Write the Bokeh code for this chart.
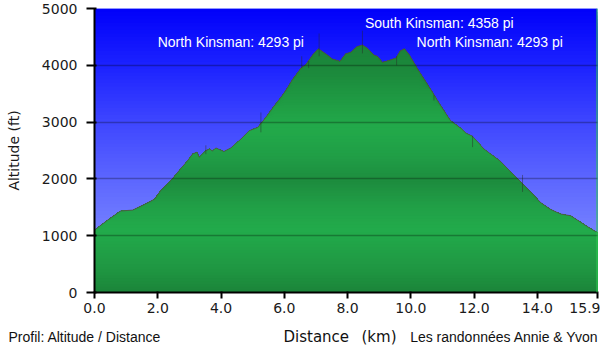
import numpy as np
from bokeh.plotting import figure
from bokeh.layouts import column
from bokeh.models import Range1d, FixedTicker, Label, Span, PrintfTickFormatter
from bokeh.embed import file_html
from bokeh.resources import INLINE

# ---------------- data ----------------
profile_km = [0.00, 0.42, 0.82, 1.21, 1.58, 1.90, 2.10, 2.42, 2.68, 2.95, 3.10, 3.24, 3.31,
              3.53, 3.65, 3.72, 3.84, 4.09, 4.32, 4.63, 4.89, 5.16, 5.37, 5.68, 6.00, 6.26,
              6.53, 6.68, 6.90, 7.08, 7.35, 7.52, 7.76, 7.94, 8.10, 8.30, 8.47, 8.63, 8.82,
              8.95, 9.10, 9.32, 9.53, 9.66, 9.80, 9.95, 10.26, 10.63, 10.95, 11.26, 11.58,
              11.74, 11.95, 12.31, 12.84, 13.16, 13.53, 13.79, 14.10, 14.42, 14.74, 15.05,
              15.26, 15.58, 15.84, 15.90]
profile_alt = [1100, 1277, 1434, 1452, 1550, 1644, 1801, 1975, 2150, 2325, 2440, 2470, 2382,
               2499, 2530, 2490, 2545, 2482, 2550, 2702, 2848, 2906, 3051, 3284, 3517, 3749,
               3953, 4010, 4185, 4293, 4185, 4110, 4070, 4202, 4230, 4330, 4358, 4300, 4185,
               4157, 4052, 4087, 4127, 4250, 4293, 4185, 3895, 3574, 3284, 3022, 2890,
               2806, 2749, 2527, 2307, 2120, 1916, 1771, 1585, 1462, 1382, 1352,
               1277, 1160, 1073, 1050]

peak_names = ["North Kinsman: 4293 pi", "South Kinsman: 4358 pi", "North Kinsman: 4293 pi"]
peak_km = [7.08, 8.47, 9.80]
peak_alt = [4293, 4358, 4293]

waypoint_km = [3.52, 5.26, 6.55, 6.77, 7.10, 8.47, 9.55, 10.73, 11.95, 13.53]
waypoint_lo = [2435, 2820, 3950, 3950, 4160, 4210, 4000, 3380, 2560, 1770]
waypoint_hi = [2590, 3170, 4160, 4075, 4560, 4610, 4160, 3480, 2760, 2070]

x_ticks = [0, 2, 4, 6, 8, 10, 12, 14, 15.9]
y_ticks = [0, 1000, 2000, 3000, 4000, 5000]

x_title = "Distance   (km)"
y_title = "Altitude (ft)"
left_note = "Profil: Altitude / Distance"
right_note = "Les randonnées Annie & Yvon"

# ---------------- main figure ----------------
X_MAX = 15.9
Y_MAX = 5000

p = figure(width=600, height=320, x_range=Range1d(0, X_MAX), y_range=Range1d(0, Y_MAX),
           output_backend="svg", toolbar_location=None,
           min_border_left=94, min_border_right=3, min_border_top=8, min_border_bottom=28)
p.outline_line_color = None
p.background_fill_color = "#8896ff"
p.border_fill_color = "white"
p.frame_align = False

km = np.array(profile_km)
alt = np.array(profile_alt, dtype=float)


def hexcol(c):
    return "#%02x%02x%02x" % tuple(int(round(v)) for v in c)


def interp_col(a, stops):
    xs = [st[0] for st in stops]
    cols = np.array([st[1] for st in stops], dtype=float)
    return hexcol([np.interp(a, xs, cols[:, k]) for k in range(3)])


# sky gradient (cumulative bands from the top down)
sky_stops = [(0, (140, 152, 255)), (1000, (118, 130, 255)), (2000, (92, 102, 255)),
             (3000, (62, 70, 255)), (4000, (28, 34, 255)), (5000, (0, 0, 250))]
n_sky = 80
sky_tops = np.linspace(Y_MAX, 0, n_sky, endpoint=False)
sky_cols = [interp_col(t - Y_MAX / n_sky / 2, sky_stops) for t in sky_tops]
p.quad(left=0, right=X_MAX, bottom=0, top=sky_tops, fill_color=sky_cols, line_color=None)

# green gradient fill under the profile
green_stops = [(0, (27, 132, 57)), (400, (31, 150, 66)), (1100, (34, 171, 75)),
               (1500, (33, 160, 71)), (1950, (29, 140, 62)), (2400, (32, 158, 70)),
               (2900, (34, 170, 74)), (3400, (31, 154, 67)), (3860, (28, 138, 60)),
               (4500, (26, 128, 56))]
n_g = 90
g_tops = np.linspace(4500, 0, n_g, endpoint=False)
for t in g_tops:
    col = interp_col(t - 4500 / n_g / 2, green_stops)
    p.varea(x=km, y1=np.zeros_like(alt), y2=np.minimum(alt, t), fill_color=col)

# profile outline
p.line(km, alt, line_color="#5e3e46", line_width=1.0, line_alpha=0.7)

# waypoint marks
p.segment(x0=waypoint_km, y0=waypoint_lo, x1=waypoint_km, y1=waypoint_hi,
          line_color="#2a2a2a", line_width=1, line_alpha=0.45)

# right edge green line
p.add_layout(Span(location=X_MAX, dimension="height", line_color="#2ecc50", line_width=2))

# grid on top
p.xgrid.visible = False
p.ygrid.ticker = FixedTicker(ticks=[1000, 2000, 3000, 4000])
p.ygrid.grid_line_color = "black"
p.ygrid.grid_line_alpha = 0.28
p.ygrid.grid_line_width = 1.5
p.ygrid.level = "overlay"

# axes
for ax in (p.xaxis[0], p.yaxis[0]):
    ax.axis_line_color = "black"
    ax.axis_line_width = 2
    ax.major_tick_line_color = "black"
    ax.major_tick_line_width = 2
    ax.minor_tick_line_color = None
    ax.major_label_text_font = "DejaVu Sans"
    ax.major_label_text_font_size = "14px"
    ax.major_label_text_color = "#1a1a1a"

p.xaxis.ticker = FixedTicker(ticks=x_ticks)
p.xaxis.formatter = PrintfTickFormatter(format="%.1f")
p.xaxis.major_tick_out = 6
p.xaxis.major_tick_in = 1
p.xaxis.major_label_standoff = 4

p.yaxis.ticker = FixedTicker(ticks=y_ticks)
p.yaxis.major_tick_out = 8
p.yaxis.major_tick_in = 2
p.yaxis.major_label_standoff = 9
p.yaxis.axis_label = y_title
p.yaxis.axis_label_text_font = "DejaVu Sans"
p.yaxis.axis_label_text_font_size = "14px"
p.yaxis.axis_label_text_font_style = "normal"
p.yaxis.axis_label_text_color = "#1a1a1a"
p.yaxis.axis_label_standoff = 17

# peak labels
label_dx = [-14.5, 2.5, 12]
label_dy = [6.5, 22, 6.5]
label_align = ["right", "left", "left"]
for name, xk, ya, dx, dy, al in zip(peak_names, peak_km, peak_alt, label_dx, label_dy, label_align):
    p.add_layout(Label(x=xk, y=ya, x_offset=dx, y_offset=dy, text=name, text_align=al,
                       text_baseline="middle", text_font="Liberation Sans",
                       text_font_size="14px", text_color="white"))

# ---------------- bottom caption strip ----------------
W, H = 600, 34
s = figure(width=W, height=H, x_range=Range1d(0, W), y_range=Range1d(0, H),
           output_backend="svg", toolbar_location=None, min_border=0,
           x_axis_location=None, y_axis_location=None)
s.frame_align = False
s.grid.visible = False
s.outline_line_color = None
s.background_fill_color = "white"
s.border_fill_color = "white"

cap_y = H - 16
s.add_layout(Label(x=8, y=cap_y, text=left_note, text_align="left", text_baseline="middle",
                   text_font="Liberation Sans", text_font_size="14px", text_color="#111111"))
title_words = x_title.split()
title_x = [283, 361]
for word, tx in zip(title_words, title_x):
    s.add_layout(Label(x=tx, y=cap_y, text=word, text_align="left", text_baseline="middle",
                       text_font="DejaVu Sans", text_font_size="15px", text_color="#111111"))
s.add_layout(Label(x=598, y=cap_y, text=right_note, text_align="right", text_baseline="middle",
                   text_font="Liberation Sans", text_font_size="14px", text_color="#111111"))

layout = column(p, s, spacing=0)
open("out.html", "w").write(file_html(layout, INLINE))
